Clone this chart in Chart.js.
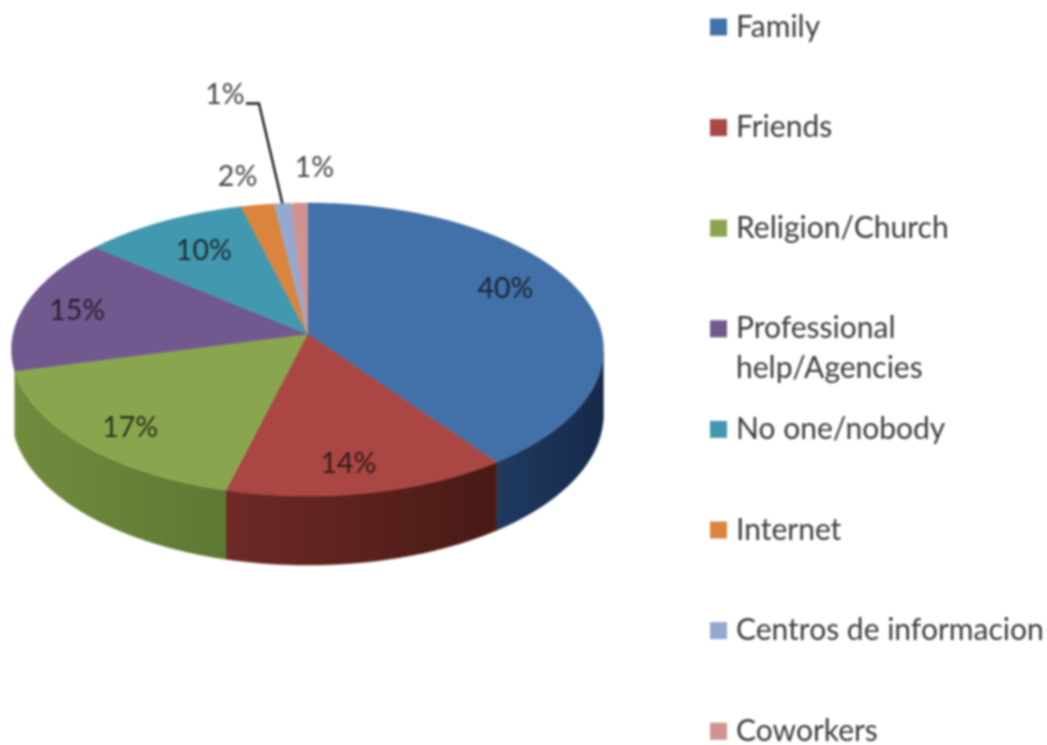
<!DOCTYPE html>
<html>
<head>
<meta charset="utf-8">
<style>
html,body{margin:0;padding:0;background:#fff}
canvas{display:block;filter:blur(0.8px)}
</style>
<script src="https://cdn.jsdelivr.net/npm/chart.js@4/dist/chart.umd.min.js"></script>
</head>
<body>
<canvas id="c" width="1047" height="745"></canvas>
<script>
const categories = ["Family","Friends","Religion/Church","Professional help/Agencies","No one/nobody","Internet","Centros de informacion","Coworkers"];
const shares = [40,14,17,15,10,2,1,1];
const colours = ["#4270a8","#aa4643","#89a64e","#71588f","#4198af","#db843d","#93a9cf","#d19392"];
const wallLeft = ["#1f3a60","#6f2927","#728c3e"];
const wallRight = ["#16294a","#481a15","#5d7833"];
// label nudges relative to the default anchor of each slice
const labelNudge = [[1,-14],[-2,19],[-19,16],[-27,-1],[3,0],[-33,-62],[-64,-143],[13,-69]];

// Perspective projection of the pie's disc onto the page
const APEX_X = 307.5, APEX_Y = 334, RX = 294.3, RY = 144.9, P = 0.1058;
function project(a, r) {
  const u = r * Math.cos(a), v = r * Math.sin(a), w = 1 - P * v;
  return {x: APEX_X + RX * u / w, y: APEX_Y + RY * v / w};
}
function arcPoints(a0, a1, n) {
  const pts = [];
  for (let i = 0; i <= n; i++) pts.push(a0 + (a1 - a0) * i / n);
  return pts;
}

const pie3d = {
  id: 'pie3d',
  beforeDatasetsDraw(chart) {
    const ctx = chart.ctx, arcs = chart.getDatasetMeta(0).data;
    ctx.save();
    // side walls
    arcs.forEach((arc, i) => {
      if (!wallLeft[i]) return;
      const angs = arcPoints(arc.startAngle, arc.endAngle, 120).filter(a => Math.sin(a) >= P);
      if (angs.length < 2) return;
      const pts = angs.map(a => project(a, 1));
      const xs = pts.map(p => p.x);
      const g = ctx.createLinearGradient(Math.min(...xs), 0, Math.max(...xs), 0);
      g.addColorStop(0, wallLeft[i]);
      g.addColorStop(1, wallRight[i]);
      ctx.beginPath();
      pts.forEach((p, k) => k ? ctx.lineTo(p.x, p.y) : ctx.moveTo(p.x, p.y));
      for (let k = pts.length - 1; k >= 0; k--) {
        ctx.lineTo(pts[k].x, pts[k].y + 64 + 5 * Math.sin(angs[k]));
      }
      ctx.closePath();
      ctx.fillStyle = g;
      ctx.fill();
      ctx.strokeStyle = g;
      ctx.lineWidth = 0.5;
      ctx.stroke();
    });
    // top faces
    arcs.forEach((arc, i) => {
      ctx.beginPath();
      ctx.moveTo(APEX_X, APEX_Y);
      arcPoints(arc.startAngle, arc.endAngle, 120).forEach(a => {
        const p = project(a, 1);
        ctx.lineTo(p.x, p.y);
      });
      ctx.closePath();
      ctx.fillStyle = arc.options.backgroundColor;
      ctx.fill();
      ctx.strokeStyle = arc.options.backgroundColor;
      ctx.lineWidth = 0.5;
      ctx.stroke();
    });
    ctx.restore();
    return false; // the projected slices replace the flat ones
  },
  afterDraw(chart) {
    const ctx = chart.ctx, arcs = chart.getDatasetMeta(0).data, vals = chart.data.datasets[0].data;
    ctx.save();
    // percentage labels
    ctx.font = '28.5px Lato';
    ctx.textAlign = 'center';
    ctx.textBaseline = 'middle';
    const total = vals.reduce((s, v) => s + v, 0);
    arcs.forEach((arc, i) => {
      const p = project((arc.startAngle + arc.endAngle) / 2, 0.72);
      const x = p.x + labelNudge[i][0], y = p.y + labelNudge[i][1];
      ctx.fillStyle = i < 5 ? 'rgba(15,15,15,0.78)' : '#454545';
      ctx.fillText(Math.round(vals[i] / total * 100) + '%', x, y);
      if (i === 6) {
        const rim = project((arc.startAngle + arc.endAngle) / 2, 1);
        ctx.beginPath();
        ctx.moveTo(x + 21, y + 9);
        ctx.lineTo(x + 34, y + 9);
        ctx.lineTo(rim.x, rim.y);
        ctx.strokeStyle = '#1c1c1c';
        ctx.lineWidth = 2.4;
        ctx.stroke();
      }
    });
    // legend
    ctx.font = '30px Lato';
    ctx.textAlign = 'left';
    chart.data.labels.forEach((label, i) => {
      const y = 27 + i * 100.6;
      ctx.fillStyle = colours[i];
      ctx.fillRect(710, y - 8.5, 17, 17);
      ctx.fillStyle = '#3c3c3c';
      const lines = [];
      let cur = '';
      label.split(' ').forEach(word => {
        const t = cur ? cur + ' ' + word : word;
        if (ctx.measureText(t).width > 312 && cur) { lines.push(cur); cur = word; }
        else cur = t;
      });
      lines.push(cur);
      lines.forEach((t, k) => ctx.fillText(t, 736, y + k * 40));
    });
    ctx.restore();
  }
};

new Chart(document.getElementById('c'), {
  type: 'pie',
  data: {labels: categories, datasets: [{data: shares, backgroundColor: colours, borderWidth: 0}]},
  options: {
    responsive: false,
    animation: false,
    plugins: {legend: {display: false}, tooltip: {enabled: false}}
  },
  plugins: [pie3d]
});
</script>
</body>
</html>
